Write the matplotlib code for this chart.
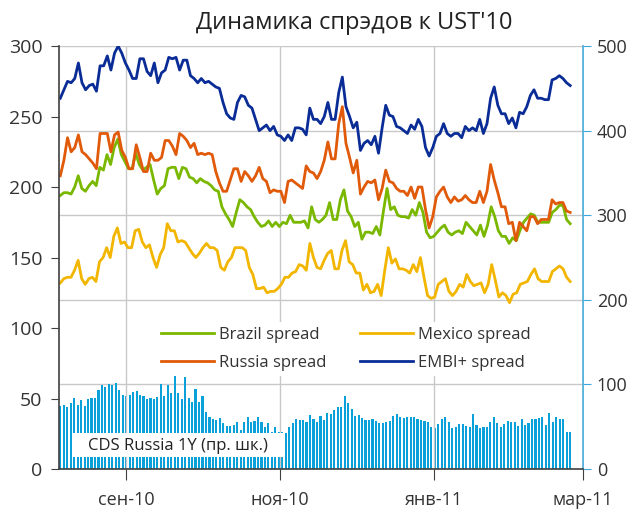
import numpy as np
import pandas as pd
import matplotlib
matplotlib.use('Agg')
import matplotlib.pyplot as plt
from matplotlib.patches import Rectangle

plt.rcParams['font.family'] = ['Open Sans', 'DejaVu Sans']

# Data
start, end = '2010-08-06', '2011-02-24'

brazil = [194, 196, 196, 195, 200, 208, 199, 197, 201, 204, 201, 214, 212, 223, 216, 228, 234, 223, 218, 213,
          213, 224, 216, 212, 214, 216, 205, 195, 199, 201, 213, 214, 214, 206, 214,
          213, 207, 206, 203, 206, 204, 203, 201, 198, 197, 186, 181, 177, 172, 182, 191, 189, 186, 184, 179,
          175, 172, 173, 176, 172, 175, 172, 175, 174, 180, 175, 175, 175, 176, 171, 186, 177,
          175, 177, 180, 189, 177, 177, 191, 198, 183, 179, 172, 175, 163, 168, 168, 167, 172, 166, 183, 199,
          184, 186, 180, 179, 179, 178, 184, 180, 189, 182, 168, 164, 165, 168,
          171, 173, 168, 166, 168, 169, 167, 175, 172, 169, 166, 173, 165, 173, 186, 179, 169, 165, 165, 160,
          164, 162, 169, 175, 178, 181, 180, 175, 175, 175, 175, 182, 184, 187, 187, 177, 174]

mexico = [132, 135, 136, 136, 141, 148, 135, 131, 135, 136, 133, 147, 150, 157, 150, 165, 171, 160, 161, 157,
          157, 169, 170, 161, 157, 159, 150, 143, 152, 157, 174, 169, 169, 161, 162,
          161, 157, 153, 150, 153, 157, 160, 157, 157, 155, 143, 141, 147, 150, 157, 157, 157, 155, 143, 138,
          128, 128, 129, 125, 126, 126, 128, 131, 136, 136, 139, 140, 145, 144, 141, 160, 150,
          143, 142, 148, 153, 155, 142, 142, 155, 162, 147, 145, 139, 139, 127, 131, 125, 126, 131, 123, 141,
          157, 146, 149, 142, 142, 141, 139, 145, 140, 150, 136, 123, 121, 122, 131,
          133, 135, 126, 123, 126, 131, 129, 138, 133, 130, 131, 132, 125, 131, 145, 134, 122, 125, 123, 118,
          124, 125, 131, 132, 133, 138, 142, 135, 133, 133, 133, 140, 142, 144, 142, 136, 133]

russia = [208, 219, 235, 225, 228, 237, 225, 223, 220, 217, 213, 238, 238, 238, 225, 237, 239, 226, 221, 213,
          213, 230, 221, 211, 211, 224, 219, 219, 221, 233, 233, 229, 223, 238,
          236, 233, 228, 231, 223, 224, 223, 224, 223, 211, 203, 197, 197, 205, 213, 213, 204, 211, 208, 204,
          208, 214, 206, 204, 196, 198, 197, 197, 189, 204, 205, 203, 201, 199, 215, 211,
          210, 206, 211, 219, 232, 220, 220, 245, 257, 231, 221, 210, 219, 195, 200, 204, 203, 205, 191, 199,
          212, 204, 203, 199, 197, 197, 194, 200, 192, 200, 200, 184, 171, 179, 193,
          197, 200, 193, 189, 193, 190, 191, 194, 191, 189, 189, 197, 189, 197, 216, 205, 196, 186, 186, 174,
          175, 162, 175, 172, 169, 179, 179, 174, 177, 177, 177, 191, 188, 189, 189, 183, 182]

embi = [263, 269, 275, 274, 277, 288, 274, 269, 272, 273, 268, 286, 286, 293, 283, 295, 300, 295, 288, 283,
        277, 277, 291, 291, 282, 279, 288, 274, 281, 283, 292, 291, 292, 283, 290,
        290, 279, 277, 274, 277, 274, 275, 273, 271, 270, 260, 252, 249, 248, 260, 265, 264, 258, 256, 248,
        240, 242, 244, 240, 243, 237, 236, 233, 237, 233, 242, 242, 241, 237, 256, 248,
        248, 245, 250, 260, 248, 248, 267, 278, 257, 250, 242, 246, 226, 231, 233, 230, 236, 224, 242, 258,
        251, 250, 243, 242, 240, 238, 244, 241, 248, 243, 228, 222, 228, 236,
        238, 245, 238, 236, 238, 238, 235, 243, 240, 242, 240, 248, 238, 245, 263, 271, 258, 252, 252, 245,
        249, 242, 253, 252, 257, 265, 269, 263, 263, 262, 262, 276, 277, 279, 277, 274, 272]

cds = [74, 76, 73, 78, 84, 76, 82, 74, 83, 84, 84, 93, 99, 97, 100, 99, 102, 93, 87, 86,
       87, 91, 92, 87, 86, 83, 84, 83, 85, 100, 86, 99, 90, 116, 90, 83, 109, 84, 79, 94,
       79, 86, 67, 62, 59, 58, 60, 54, 51, 51, 52, 55, 46, 55, 61, 56, 57, 61, 56, 50,
       54, 44, 50, 44, 44, 43, 50, 54, 59, 58, 58, 56, 64, 59, 56, 63, 58, 66, 65, 70,
       73, 73, 86, 78, 71, 63, 64, 60, 58, 58, 59, 57, 54, 54, 56, 57, 63, 65, 62, 60,
       61, 61, 61, 59, 58, 57, 56, 50, 48, 53, 59, 61, 56, 48, 50, 53, 53, 51, 50, 65,
       52, 48, 50, 50, 56, 61, 54, 50, 53, 57, 56, 56, 51, 59, 52, 54, 59, 59, 60, 61,
       52, 66, 55, 61, 59, 59, 44, 44]

tick_dates = pd.to_datetime(['2010-09-01', '2010-11-01', '2011-01-01', '2011-03-01'])
tick_labels = ['сен-10', 'ноя-10', 'янв-11', 'мар-11']

colors = {'Brazil': '#7AB800', 'Mexico': '#F2B600', 'Russia': '#E05A0A', 'EMBI': '#0A2C96'}
bar_color = '#0AA0DA'
grid_color = '#C8C8C8'
dark = '#404040'


def dates_for(vals):
    return pd.date_range(start, end, periods=len(vals))


fig = plt.figure(figsize=(6.28, 5.12), dpi=100)
ax = fig.add_axes([0.094, 0.084, 0.834, 0.826])
ax2 = ax.twinx()
ax.set_zorder(2)
ax2.set_zorder(1)
ax.patch.set_visible(False)

# CDS bars on right scale
ax2.bar(dates_for(cds), cds, width=0.85, color=bar_color, zorder=2)
ax2.set_ylim(0, 500)
ax2.set_yticks([0, 100, 200, 300, 400, 500])
ax2.set_axisbelow(True)
ax2.grid(axis='y', color=grid_color, linewidth=1)
ax2.tick_params(axis='y', direction='out', length=6, color='#3AA8DC', labelsize=13, labelcolor='#333333', pad=4)
for s in ['left', 'top', 'bottom']:
    ax2.spines[s].set_visible(False)
ax2.spines['right'].set_color('#3AA8DC')
ax2.spines['right'].set_linewidth(1.2)

# spread lines on left scale
lw = 2.0
ax.plot(dates_for(brazil), brazil, color=colors['Brazil'], lw=lw, label='Brazil spread')
ax.plot(dates_for(russia), russia, color=colors['Russia'], lw=lw, label='Russia spread')
ax.plot(dates_for(mexico), mexico, color=colors['Mexico'], lw=lw, label='Mexico spread')
ax.plot(dates_for(embi), embi, color=colors['EMBI'], lw=lw, label='EMBI+ spread')

ax.set_ylim(0, 300)
ax.set_yticks(range(0, 301, 50))
ax.set_xlim(pd.Timestamp('2010-08-05 12:00'), pd.Timestamp('2011-03-01'))
ax.set_xticks(tick_dates)
ax.set_xticklabels(tick_labels)
ax.set_axisbelow(True)
ax.grid(axis='x', color=grid_color, linewidth=1)
ax.tick_params(axis='y', direction='out', length=6, color=dark, labelsize=14, labelcolor='#333333', pad=6)
ax.tick_params(axis='x', direction='out', length=8, color=dark, labelsize=13, labelcolor='#333333', pad=8)
for s in ['right', 'top']:
    ax.spines[s].set_visible(False)
ax.spines['left'].set_color(dark)
ax.spines['bottom'].set_color(dark)
ax.spines['left'].set_linewidth(1.2)
ax.spines['bottom'].set_linewidth(1.2)

leg = ax.legend(ncol=2, loc='center', bbox_to_anchor=(0.548, 0.284), fontsize=12,
                handlelength=3.2, handletextpad=0.3, columnspacing=2.0, labelspacing=0.75,
                frameon=True, facecolor='white', edgecolor='none', framealpha=1, borderpad=0.3)
for t in leg.get_texts():
    t.set_color('#333333')

# white label box over the bars
ax.add_patch(Rectangle((0.027, 0.028), 0.40, 0.057, transform=ax.transAxes,
                       facecolor='white', edgecolor='none', zorder=5))
ax.text(0.227, 0.054, 'CDS Russia 1Y (пр. шк.)', transform=ax.transAxes, ha='center', va='center',
        fontsize=12, color='#222222', zorder=6)

fig.text(0.564, 0.955, "Динамика спрэдов к UST'10", ha='center', va='center', fontsize=17, color='#222222')

fig.savefig('out.png', dpi=100)
